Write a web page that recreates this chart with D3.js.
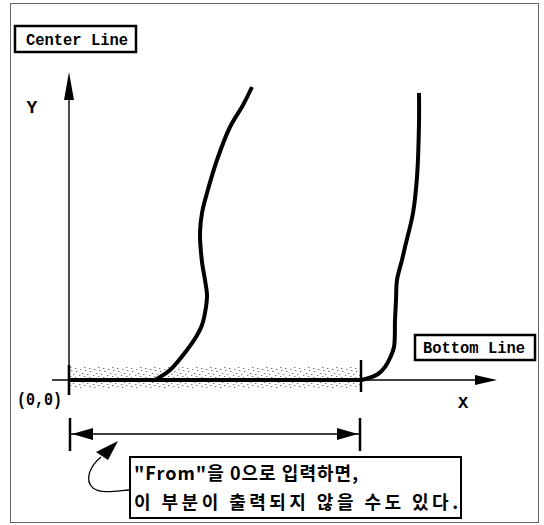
<!DOCTYPE html>
<html>
<head>
<meta charset="utf-8">
<script src="https://cdn.jsdelivr.net/npm/d3@7"></script>
<style>
	body { margin: 0; background: #fff; }
	svg { display: block; }
</style>
</head>
<body>
<svg id="chart" width="544" height="525"></svg>
<script>
// curve points in axis units, origin at (0,0)
const centerCurve = [[86,0],[101,10],[118,30],[127,43],[133,55],[137,73],[138,85],[136,100],[133,118],[131,147],[133,167],[138,187],[148,220],[161,253],[174,275],[183,293]];
const bottomCurve = [[292,0],[300,2],[309,6],[316,13],[321,22],[325,33],[326,60],[327,80],[328,100],[333,120],[336,133],[344,167],[348,203],[350,257],[350,287]];
const bottomLineEnd = 292;
const labels = ["Center Line", "Bottom Line", "X", "Y", "(0,0)"];
const noteLines = ["\"From\"을 0으로 입력하면,", "이 부분이 출력되지 않을 수도 있다."];

const MONO = "'Liberation Mono', 'DejaVu Sans Mono', monospace";
const KR = "'Noto Sans CJK KR', sans-serif";

const svg = d3.select("#chart");

const x = d3.scaleLinear().domain([0, 430]).range([69, 499]);
const y = d3.scaleLinear().domain([0, 310]).range([380, 70]);

// frame
svg.append("rect")
	.attr("x", 10.5).attr("y", 3.5)
	.attr("width", 528).attr("height", 519)
	.style("fill", "none")
	.style("stroke", "#666")
	.style("stroke-width", 1);

// stipple pattern for the band along the bottom line
const defs = svg.append("defs");
const pat = defs.append("pattern")
	.attr("id", "stipple")
	.attr("patternUnits", "userSpaceOnUse")
	.attr("width", 14).attr("height", 9);
[[1,1],[6,2],[10,0],[3,5],[9,6],[12,4],[5,8],[0,7]].forEach(function(p){
	pat.append("rect")
		.attr("x", p[0]).attr("y", p[1])
		.attr("width", 1.4).attr("height", 1)
		.style("fill", "#777");
});

svg.append("rect")
	.attr("x", x(0)).attr("y", y(0) - 13)
	.attr("width", x(bottomLineEnd) - x(0)).attr("height", 21)
	.style("fill", "url(#stipple)");

// axes
const axes = svg.append("g").attr("class", "axes")
	.style("stroke", "#000");

axes.append("line")
	.attr("x1", x(0)).attr("y1", y(-7))
	.attr("x2", x(0)).attr("y2", y(280))
	.style("stroke-width", 1.4);

axes.append("line")
	.attr("x1", x(0)).attr("y1", y(-15))
	.attr("x2", x(0)).attr("y2", y(15))
	.style("stroke-width", 2.6);

axes.append("line")
	.attr("x1", x(-17)).attr("y1", y(0))
	.attr("x2", x(410)).attr("y2", y(0))
	.style("stroke-width", 1.4);

// heavy bottom line up to the tick
axes.append("line")
	.attr("x1", x(0)).attr("y1", y(0))
	.attr("x2", x(bottomLineEnd)).attr("y2", y(0))
	.style("stroke-width", 4);

axes.append("line")
	.attr("x1", x(bottomLineEnd)).attr("y1", y(20))
	.attr("x2", x(bottomLineEnd)).attr("y2", y(-12))
	.style("stroke-width", 2.5);

// arrow heads
svg.append("path")
	.attr("d", "M" + x(0) + "," + y(308) + "L" + (x(0) - 5) + "," + y(280) + "L" + (x(0) + 5) + "," + y(280) + "Z")
	.style("fill", "#000");

svg.append("path")
	.attr("d", "M" + x(428) + "," + y(0) + "L" + x(406) + "," + (y(0) - 5) + "L" + x(406) + "," + (y(0) + 5) + "Z")
	.style("fill", "#000");

// curves
const curveLine = d3.line()
	.x(d => x(d[0]))
	.y(d => y(d[1]))
	.curve(d3.curveCatmullRom);

svg.selectAll(".curve")
	.data([centerCurve, bottomCurve])
	.enter()
	.append("path")
		.attr("class", "curve")
		.attr("d", d => curveLine(d))
		.style("fill", "none")
		.style("stroke", "#000")
		.style("stroke-width", 4)
		.style("stroke-linecap", "butt");

// dimension bracket below
const by = 434;
const bracket = svg.append("g").style("stroke", "#000");
bracket.append("line")
	.attr("x1", x(0)).attr("y1", by)
	.attr("x2", x(bottomLineEnd) - 1).attr("y2", by)
	.style("stroke-width", 1.4);
[x(0) + 1, x(bottomLineEnd) - 1].forEach(function(bx){
	bracket.append("line")
		.attr("x1", bx).attr("y1", by - 16)
		.attr("x2", bx).attr("y2", by + 17)
		.style("stroke-width", 2.5);
});
svg.append("path")
	.attr("d", "M" + (x(0) + 3) + "," + by + "L" + (x(0) + 24) + "," + (by - 6) + "L" + (x(0) + 24) + "," + (by + 6) + "Z")
	.style("fill", "#000");
svg.append("path")
	.attr("d", "M" + (x(bottomLineEnd) - 3) + "," + by + "L" + (x(bottomLineEnd) - 24) + "," + (by - 6) + "L" + (x(bottomLineEnd) - 24) + "," + (by + 6) + "Z")
	.style("fill", "#000");

// pointer from the note to the bracket
svg.append("path")
	.attr("d", "M118,441 L96,452 L108,460 Z")
	.style("fill", "#000");
svg.append("path")
	.attr("d", "M101,457 C90,466 84,480 93,488 C101,494 116,491 129,490")
	.style("fill", "none")
	.style("stroke", "#000")
	.style("stroke-width", 1.3);

// label boxes
function labelBox(bx, by0, bw, bh, txt, tx, ty, tw) {
	svg.append("rect")
		.attr("x", bx).attr("y", by0)
		.attr("width", bw).attr("height", bh)
		.style("fill", "#fff")
		.style("stroke", "#000")
		.style("stroke-width", 2.5);
	svg.append("text")
		.attr("x", tx).attr("y", ty)
		.attr("textLength", tw)
		.attr("lengthAdjust", "spacingAndGlyphs")
		.style("font-family", MONO)
		.style("font-weight", "bold")
		.style("font-size", "17px")
		.text(txt);
}

labelBox(15, 26, 121, 26, labels[0], 26, 45, 102);
labelBox(415, 335, 120, 25, labels[1], 423, 353, 102);

svg.append("text")
	.attr("x", 32).attr("y", 113)
	.attr("text-anchor", "middle")
	.style("font-family", MONO).style("font-weight", "bold").style("font-size", "18px")
	.text(labels[3]);

svg.append("text")
	.attr("x", 463).attr("y", 408)
	.attr("text-anchor", "middle")
	.style("font-family", MONO).style("font-weight", "bold").style("font-size", "17px")
	.text(labels[2]);

svg.append("text")
	.attr("x", 17).attr("y", 405)
	.attr("textLength", 45)
	.attr("lengthAdjust", "spacingAndGlyphs")
	.style("font-family", MONO).style("font-weight", "bold").style("font-size", "18px")
	.text(labels[4]);

// note box
svg.append("rect")
	.attr("x", 130).attr("y", 457)
	.attr("width", 331).attr("height", 61)
	.style("fill", "#fff")
	.style("stroke", "#000")
	.style("stroke-width", 2);

svg.selectAll(".note")
	.data(noteLines)
	.enter()
	.append("text")
		.attr("class", "note")
		.attr("x", 134)
		.attr("y", (d, i) => 480 + i * 29)
		.attr("textLength", (d, i) => i == 0 ? 224 : 324)
		.attr("lengthAdjust", "spacing")
		.style("font-family", KR)
		.style("font-weight", "bold")
		.style("font-size", "18px")
		.text(d => d);
</script>
</body>
</html>
